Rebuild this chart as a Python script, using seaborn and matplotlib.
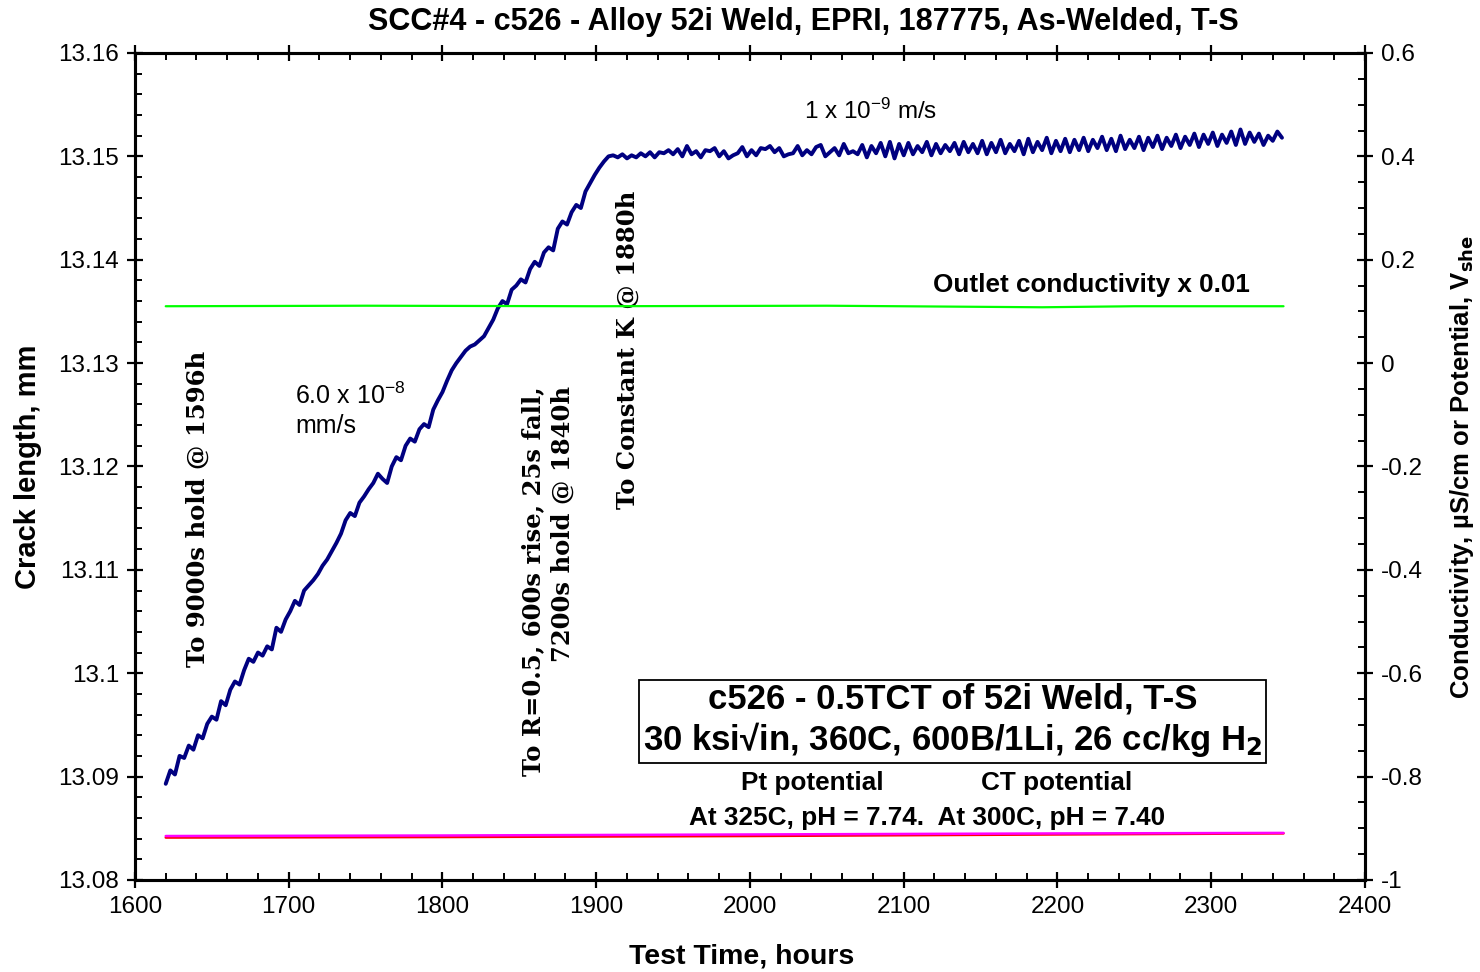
import numpy as np
import matplotlib
matplotlib.use("Agg")
import matplotlib.pyplot as plt
import seaborn as sns
from matplotlib.ticker import MultipleLocator, FuncFormatter

# crack length (mm), one reading every 3 h from 1620 h to 2346 h
hours = np.arange(1620, 2347, 3)
crack = [
    13.0893, 13.0906, 13.0902, 13.0920, 13.0918, 13.0930, 13.0926, 13.0940,
    13.0937, 13.0951, 13.0958, 13.0955, 13.0973, 13.0969, 13.0984, 13.0992,
    13.0989, 13.1003, 13.1014, 13.1011, 13.1020, 13.1017, 13.1026, 13.1023,
    13.1044, 13.1040, 13.1052, 13.1060, 13.1070, 13.1066, 13.1080, 13.1085,
    13.1090, 13.1096, 13.1104, 13.1110, 13.1118, 13.1126, 13.1135, 13.1148,
    13.1155, 13.1152, 13.1165, 13.1171, 13.1178, 13.1184, 13.1193, 13.1188,
    13.1184, 13.1200, 13.1209, 13.1206, 13.1220, 13.1227, 13.1224, 13.1236,
    13.1241, 13.1238, 13.1255, 13.1264, 13.1272, 13.1283, 13.1293, 13.1300,
    13.1306, 13.1312, 13.1316, 13.1318, 13.1322, 13.1326, 13.1334, 13.1342,
    13.1353, 13.1360, 13.1357, 13.1371, 13.1375, 13.1381, 13.1378, 13.1391,
    13.1398, 13.1394, 13.1407, 13.1412, 13.1409, 13.1430, 13.1437, 13.1434,
    13.1446, 13.1453, 13.1450, 13.1466, 13.1474, 13.1482, 13.1489, 13.1495,
    13.1500, 13.1501, 13.1499, 13.1502, 13.1498, 13.1501, 13.1499, 13.1503,
    13.1500, 13.1504, 13.1499, 13.1504, 13.1503, 13.1506, 13.1502, 13.1507,
    13.1500, 13.1510, 13.1502, 13.1505, 13.1499, 13.1506, 13.1505, 13.1508,
    13.1500, 13.1505, 13.1498, 13.1501, 13.1503, 13.1509, 13.1500, 13.1506,
    13.1501, 13.1508, 13.1507, 13.1510, 13.1504, 13.1508, 13.1500, 13.1502,
    13.1503, 13.1510, 13.1501, 13.1506, 13.1502, 13.1509, 13.1511, 13.1500,
    13.1504, 13.1508, 13.1501, 13.1512, 13.1503, 13.1505, 13.1502, 13.1511,
    13.1499, 13.1510, 13.1503, 13.1513, 13.1500, 13.1514, 13.1498, 13.1512,
    13.1501, 13.1513, 13.1502, 13.1510, 13.1504, 13.1514, 13.1501, 13.1512,
    13.1503, 13.1511, 13.1505, 13.1513, 13.1502, 13.1514, 13.1504, 13.1512,
    13.1503, 13.1515, 13.1502, 13.1513, 13.1504, 13.1516, 13.1503, 13.1512,
    13.1505, 13.1515, 13.1502, 13.1517, 13.1504, 13.1514, 13.1506, 13.1518,
    13.1503, 13.1515, 13.1505, 13.1517, 13.1504, 13.1516, 13.1506, 13.1518,
    13.1505, 13.1516, 13.1508, 13.1519, 13.1506, 13.1517, 13.1505, 13.1520,
    13.1507, 13.1516, 13.1508, 13.1519, 13.1506, 13.1518, 13.1509, 13.1520,
    13.1507, 13.1518, 13.1510, 13.1521, 13.1508, 13.1519, 13.1511, 13.1522,
    13.1509, 13.1521, 13.1512, 13.1523, 13.1510, 13.1521, 13.1513, 13.1524,
    13.1511, 13.1526, 13.1512, 13.1523, 13.1514, 13.1522, 13.1511, 13.1520,
    13.1515, 13.1524, 13.1518,
]

# right axis series
cond_hours = [1620, 1750, 1900, 2050, 2190, 2250, 2347]
conductivity = [0.110, 0.111, 0.110, 0.111, 0.108, 0.110, 0.110]   # outlet conductivity x 0.01
pot_hours = [1620, 1800, 2000, 2200, 2347]
pt_potential = [-0.918, -0.917, -0.915, -0.912, -0.910]
ct_potential = [-0.915, -0.914, -0.912, -0.910, -0.909]

sns.set_style("ticks")
plt.rcParams['font.family'] = ['Liberation Sans', 'DejaVu Sans']
plt.rcParams['mathtext.default'] = 'regular'
plt.rcParams['axes.unicode_minus'] = False
for k in ['text.color', 'axes.labelcolor', 'xtick.color', 'ytick.color', 'axes.edgecolor']:
    plt.rcParams[k] = 'black'

fig = plt.figure(figsize=(14.8, 9.72), dpi=100)
ax = fig.add_axes([0.0912, 0.0947, 0.8311, 0.8508])
ax2 = ax.twinx()

sns.lineplot(x=hours, y=crack, ax=ax, color='#000080', lw=2.8, estimator=None, sort=False)
sns.lineplot(x=cond_hours, y=conductivity, ax=ax2, color='#00ff00', lw=1.6, estimator=None)
sns.lineplot(x=pot_hours, y=pt_potential, ax=ax2, color='#ff0000', lw=1.8, estimator=None)
sns.lineplot(x=pot_hours, y=ct_potential, ax=ax2, color='#ff00ff', lw=1.8, estimator=None)

ax.set_xlim(1600, 2400)
ax.set_ylim(13.08, 13.16)
ax2.set_ylim(-1, 0.6)
ax.xaxis.set_major_locator(MultipleLocator(100))
ax.xaxis.set_minor_locator(MultipleLocator(20))
ax.yaxis.set_major_locator(MultipleLocator(0.01))
ax.yaxis.set_minor_locator(MultipleLocator(0.002))
ax2.yaxis.set_major_locator(MultipleLocator(0.2))
ax2.yaxis.set_minor_locator(MultipleLocator(0.05))
ax.yaxis.set_major_formatter(FuncFormatter(lambda v, p: ('%.2f' % v).rstrip('0')))
ax2.yaxis.set_major_formatter(FuncFormatter(lambda v, p: '%g' % round(v, 2)))

for a in (ax, ax2):
    for s in a.spines.values():
        s.set_linewidth(2.2)
        s.set_visible(True)
ax.tick_params(axis='x', which='both', top=True, bottom=True)
ax.tick_params(which='major', direction='inout', length=11, width=1.6, labelsize=17.5, pad=6)
ax.tick_params(which='minor', direction='in', length=5, width=1.4)
ax2.tick_params(which='major', direction='inout', length=11, width=1.6, labelsize=17.5, pad=6)
ax2.tick_params(which='minor', direction='in', length=5, width=1.4)

ax.set_xlabel('Test Time, hours', fontsize=20.5, fontweight='bold')
ax.xaxis.set_label_coords(0.493, -0.093)
ax.xaxis.label.set_va('center')
ax.set_ylabel('Crack length, mm', fontsize=21, fontweight='bold')
ax.yaxis.set_label_coords(-0.087, 0.5)
ax.yaxis.label.set_va('center')
ax2.set_ylabel('Conductivity, µS/cm or Potential, V$_{\\mathbf{she}}$', fontsize=18.5, fontweight='bold')
ax2.yaxis.set_label_coords(1.079, 0.5)
ax2.yaxis.label.set_va('center')

fig.text(0.5426, 0.977, 'SCC#4 - c526 - Alloy 52i Weld, EPRI, 187775, As-Welded, T-S',
         ha='center', va='center', fontsize=22, fontweight='bold')

# annotations
serif = 'DejaVu Serif'
ax.text(1641, 13.1159, 'To 9000s hold @ 1596h', rotation=90, ha='center', va='center',
        fontsize=17.5, fontweight='bold', family=serif)
ax.text(1868.6, 13.1089, 'To R=0.5, 600s rise, 25s fall,\n7200s hold @ 1840h', rotation=90,
        ha='center', va='center', multialignment='right', fontsize=17.5, fontweight='bold',
        family=serif, linespacing=1.25)
ax.text(1920.7, 13.1313, 'To Constant K @ 1880h', rotation=90, ha='center', va='center',
        fontsize=17.5, fontweight='bold', family=serif)
ax.text(1704, 13.1254, '6.0 x 10$^{-8}$\nmm/s', ha='left', va='center', fontsize=18, linespacing=1.25)
ax.text(2078.7, 13.1544, '1 x 10$^{-9}$ m/s', ha='center', va='center', fontsize=17.5)
ax.text(2221.8, 13.1376, 'Outlet conductivity x 0.01', ha='center', va='center',
        fontsize=18.8, fontweight='bold')
ax.text(2131.7, 13.0954, 'c526 - 0.5TCT of 52i Weld, T-S\n30 ksi√in, 360C, 600B/1Li, 26 cc/kg H$_\\mathbf{2}$',
        ha='center', va='center', fontsize=25, fontweight='bold', linespacing=1.15,
        bbox=dict(boxstyle='square,pad=0.12', fc='white', ec='black', lw=1.3))
ax.text(2040.3, 13.0894, 'Pt potential', ha='center', va='center', fontsize=18.8, fontweight='bold')
ax.text(2199.7, 13.0894, 'CT potential', ha='center', va='center', fontsize=18.8, fontweight='bold')
ax.text(2115.1, 13.0860, 'At 325C, pH = 7.74.  At 300C, pH = 7.40', ha='center', va='center',
        fontsize=18.8, fontweight='bold')

fig.savefig('out.png', dpi=100)
